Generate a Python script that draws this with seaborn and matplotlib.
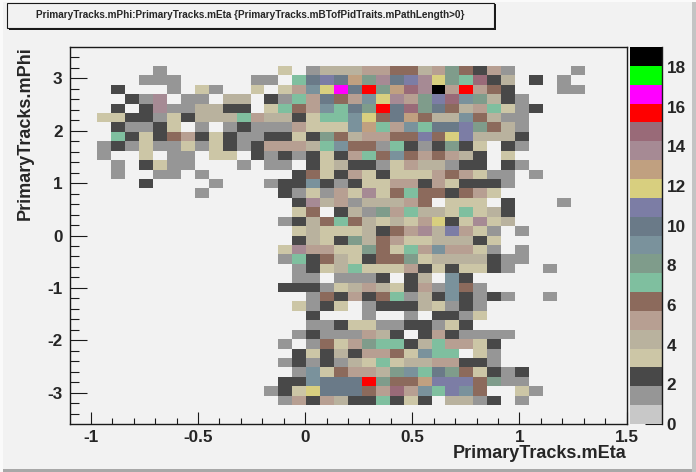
import numpy as np
import seaborn as sns
import matplotlib.pyplot as plt
from matplotlib.colors import ListedColormap
from matplotlib.patches import Rectangle

# bin contents, rows go from top (phi high) to bottom, 40 eta bins in each
row_00 = [0] * 40
row_01 = [0] * 40
row_02 = [0,0,0,0,0,0,1,0,0,0, 0,0,0,0,0,3,0,1,4,4, 4,5,5,6,6,4,5,8,6,2, 5,1,0,0,0,0,1,0,0,0]
row_03 = [0,0,0,0,0,1,1,1,0,0, 0,0,0,1,1,0,7,10,11,10, 13,8,14,10,11,14,12,8,7,15, 2,4,0,2,0,1,0,0,0,0]
row_04 = [0,0,0,2,0,0,0,1,0,3, 1,0,0,3,0,3,5,9,12,17, 10,16,8,13,15,14,19,5,16,5, 6,2,0,0,0,1,1,0,0,0]
row_05 = [0,0,0,0,2,1,14,0,1,1, 0,4,4,0,2,1,7,5,10,6, 5,9,12,14,5,8,11,15,9,8, 4,2,1,0,0,0,0,0,0,0]
row_06 = [0,0,0,2,0,2,14,1,1,4, 4,2,2,0,3,7,6,5,9,7, 10,8,16,10,15,8,10,6,4,5, 7,3,1,2,0,0,0,0,0,0]
row_07 = [0,0,3,3,2,2,1,3,2,4, 4,4,7,5,4,4,2,3,7,7, 9,12,6,10,13,6,4,4,9,6, 4,1,1,0,0,0,0,0,0,0]
row_08 = [0,0,0,2,1,1,2,3,0,1, 0,1,2,1,1,1,5,3,3,3, 9,13,7,5,9,7,10,10,11,8, 6,4,1,0,0,0,0,0,0,0]
row_09 = [0,0,0,7,2,3,2,6,5,2, 3,2,1,1,2,2,3,2,8,6, 4,5,5,6,6,11,6,12,11,4, 4,4,2,0,0,0,0,0,0,0]
row_10 = [0,0,1,2,1,3,1,1,3,1, 3,2,1,2,5,5,5,4,7,9, 6,6,1,7,2,1,2,8,2,3, 0,2,1,0,0,0,0,0,0,0]
row_11 = [0,0,1,0,0,3,0,1,1,0, 3,3,0,2,1,2,1,2,3,2, 5,7,6,9,6,5,6,5,4,2, 0,3,0,0,0,0,0,0,0,0]
row_12 = [0,0,0,1,0,2,3,1,1,0, 0,0,1,0,1,1,0,2,3,4, 2,2,1,3,5,4,4,1,2,2, 0,2,1,0,0,0,0,0,0,0]
row_13 = [0,0,0,1,0,0,1,1,0,1, 0,0,0,0,0,0,2,6,3,2, 5,3,2,3,3,3,5,6,5,3, 1,1,0,1,0,0,0,0,0,0]
row_14 = [0,0,0,0,0,2,0,0,0,0, 1,0,0,0,1,2,2,9,2,1, 2,3,3,5,5,2,5,3,2,2, 2,1,0,0,0,0,0,0,0,0]
row_15 = [0,0,0,0,0,0,0,0,0,1, 0,0,0,0,0,2,1,3,1,5, 3,14,3,6,7,6,6,2,6,5, 3,0,0,0,0,0,0,0,0,0]
row_16 = [0,0,0,0,0,0,0,0,0,0, 0,0,0,0,0,0,2,14,4,5, 1,4,4,4,5,6,0,3,3,3, 0,2,0,0,0,1,0,0,0,0]
row_17 = [0,0,0,0,0,0,0,0,0,0, 0,0,0,0,0,0,3,6,0,2, 4,1,8,5,7,4,4,3,7,3, 4,2,0,0,0,0,0,0,0,0]
row_18 = [0,0,0,0,0,0,0,0,0,0, 0,0,0,0,0,1,2,4,6,7, 6,4,3,4,3,5,12,2,3,14, 3,4,0,0,0,0,0,0,0,0]
row_19 = [0,0,0,0,0,0,0,0,0,0, 0,0,0,0,0,0,3,4,3,3, 3,4,2,6,5,14,4,11,5,3, 1,0,1,0,0,0,0,0,0,0]
row_20 = [0,0,0,0,0,0,0,0,0,0, 0,0,0,0,0,0,2,4,3,2, 8,4,6,5,3,3,4,4,4,2, 3,0,0,0,0,0,0,0,0,0]
row_21 = [0,0,0,0,0,0,0,0,0,0, 0,0,0,0,0,3,14,5,5,3, 3,8,6,3,7,5,9,5,5,3, 1,0,1,0,0,0,0,0,0,0]
row_22 = [0,0,0,0,0,0,0,0,0,0, 0,0,0,0,0,1,7,2,6,4, 3,2,6,6,8,3,4,4,4,4, 2,1,1,0,0,0,0,0,0,0]
row_23 = [0,0,0,0,0,0,0,0,0,0, 0,0,0,0,0,0,1,2,3,4, 7,3,3,3,5,2,3,2,3,3, 2,1,0,0,1,0,0,0,0,0]
row_24 = [0,0,0,0,0,0,0,0,0,0, 0,0,0,0,0,0,1,1,0,1, 1,1,2,0,2,4,0,9,2,0, 0,0,0,0,0,0,0,0,0,0]
row_25 = [0,0,0,0,0,0,0,0,0,0, 0,0,0,0,0,2,2,2,1,3, 4,5,4,3,2,5,1,9,6,1, 0,0,0,0,0,0,0,0,0,0]
row_26 = [0,0,0,0,0,0,0,0,0,0, 0,0,0,0,0,0,0,1,6,2, 5,2,6,7,1,4,2,9,2,1, 2,1,0,0,1,0,0,0,0,0]
row_27 = [0,0,0,0,0,0,0,0,0,0, 0,0,0,0,0,0,3,1,2,3, 0,1,2,2,2,4,3,1,2,1, 0,0,0,0,0,0,0,0,0,0]
row_28 = [0,0,0,0,0,0,0,0,0,0, 0,0,0,0,0,0,0,2,0,0, 0,1,0,0,1,0,2,2,1,3, 0,0,0,0,0,0,0,0,0,0]
row_29 = [0,0,0,0,0,0,0,0,0,0, 0,0,0,0,0,0,0,1,1,2, 3,3,1,1,2,2,1,3,2,0, 0,0,0,0,0,0,0,0,0,0]
row_30 = [0,0,0,0,0,0,0,0,0,0, 0,0,0,0,0,0,1,2,1,1, 1,5,4,2,0,2,5,2,1,1, 1,1,0,0,0,0,0,0,0,0]
row_31 = [0,0,0,0,0,0,0,0,0,0, 0,0,0,0,0,1,0,1,6,3, 5,8,7,7,2,4,7,5,5,3, 2,0,0,0,0,0,0,0,0,0]
row_32 = [0,0,0,0,0,0,0,0,0,0, 0,0,0,0,0,0,2,3,2,4, 2,5,5,6,3,9,7,7,0,3, 1,0,0,0,0,0,0,0,0,0]
row_33 = [0,0,0,0,0,0,0,0,0,0, 0,0,0,0,0,1,2,1,2,1, 4,3,7,3,4,4,5,5,2,2, 1,0,0,0,0,0,0,0,0,0]
row_34 = [0,0,0,0,0,0,0,0,0,0, 0,0,0,0,0,0,1,9,3,6, 5,5,4,8,9,7,10,8,6,3, 2,1,2,0,0,0,0,0,0,0]
row_35 = [0,0,0,0,0,0,0,0,0,0, 0,0,0,0,0,2,2,9,10,10, 10,16,8,6,6,13,11,11,11,6, 8,1,1,0,0,0,0,0,0,0]
row_36 = [0,0,0,0,0,0,0,0,0,0, 0,0,0,0,1,2,3,12,10,10, 10,6,5,15,5,9,7,11,9,6, 0,0,3,1,0,0,0,0,0,0]
row_37 = [0,0,0,0,0,0,0,0,0,0, 0,0,0,0,0,1,5,2,5,4, 2,2,7,2,3,2,0,4,4,1, 2,0,1,0,0,0,0,0,0,0]
row_38 = [0] * 40
row_39 = [0] * 40

palette = ['#c8c8c8', '#969696', '#484848', '#ccc6a6', '#b9b29e', '#b79f92',
           '#8c6a5c', '#7fbf9f', '#7f9c8b', '#7a929c', '#6a7a88', '#7c7da5',
           '#d8cf7f', '#c0a080', '#a68a94', '#996a78', '#ff0000', '#ff00ff',
           '#00ff00', '#000000']
eta_major = [-1, -0.5, 0, 0.5, 1, 1.5]
eta_labels = ['-1', '-0.5', '0', '0.5', '1', '1.5']
phi_major = [3, 2, 1, 0, -1, -2, -3]
phi_labels = ['3', '2', '1', '0', '-1', '-2', '-3']
z_ticks = [0, 2, 4, 6, 8, 10, 12, 14, 16, 18]

title = 'PrimaryTracks.mPhi:PrimaryTracks.mEta {PrimaryTracks.mBTofPidTraits.mPathLength>0}'
bg = '#f2f2f2'

counts = np.array([row_00, row_01, row_02, row_03, row_04, row_05, row_06, row_07,
                   row_08, row_09, row_10, row_11, row_12, row_13, row_14, row_15,
                   row_16, row_17, row_18, row_19, row_20, row_21, row_22, row_23,
                   row_24, row_25, row_26, row_27, row_28, row_29, row_30, row_31,
                   row_32, row_33, row_34, row_35, row_36, row_37, row_38, row_39])

sns.set_theme(style='white')
plt.rcParams['font.family'] = ['Liberation Sans', 'DejaVu Sans']
plt.rcParams['font.weight'] = 'bold'

W, H = 696, 472
fig = plt.figure(figsize=(W / 100, H / 100), dpi=100, facecolor=bg)


def box(x0, y0, x1, y1):
    # pixel box (origin top left) to figure fractions
    return [x0 / W, 1 - y1 / H, (x1 - x0) / W, (y1 - y0) / H]


ax = fig.add_axes(box(69.5, 47, 626.5, 424))
cax = fig.add_axes(box(629.5, 47, 662, 424))

sns.heatmap(counts, mask=counts == 0, cmap=ListedColormap(palette), vmin=0, vmax=19,
            ax=ax, cbar_ax=cax, linewidths=0, xticklabels=False, yticklabels=False)
ax.set_facecolor(bg)


# heatmap axes run in bin numbers
def eta_pos(v):
    return (np.asarray(v) + 1.1) / 0.065


def phi_pos(v):
    return (3.6 - np.asarray(v)) / 0.18


ax.set_xticks(eta_pos(eta_major))
ax.set_xticklabels(eta_labels, fontsize=12.3, fontweight='bold', rotation=0)
ax.set_yticks(phi_pos(phi_major))
ax.set_yticklabels(phi_labels, fontsize=12.3, fontweight='bold', rotation=0)
ax.set_xticks(eta_pos(np.arange(-1.0, 1.45, 0.1)), minor=True)
ax.set_yticks(phi_pos(np.arange(-3.4, 3.45, 0.2)), minor=True)
ax.tick_params(axis='x', which='major', direction='in', length=8.4, width=0.8, pad=4, color='k', bottom=True)
ax.tick_params(axis='x', which='minor', direction='in', length=4.2, width=0.8, color='k', bottom=True)
ax.tick_params(axis='y', which='major', direction='in', length=12.5, width=0.8, pad=5, color='k', left=True)
ax.tick_params(axis='y', which='minor', direction='in', length=6.2, width=0.8, color='k', left=True)
for s in ax.spines.values():
    s.set_visible(True)
    s.set_color('k')
    s.set_linewidth(1.0)

fig.text(626 / W, 1 - 453 / H, 'PrimaryTracks.mEta', ha='right', va='center', fontsize=13, fontweight='bold')
fig.text(25 / W, 1 - 46 / H, 'PrimaryTracks.mPhi', ha='center', va='top', rotation=90, fontsize=13, fontweight='bold')

cbar = ax.collections[0].colorbar
cbar.outline.set_visible(False)
cbar.set_ticks(z_ticks)
cbar.set_ticklabels([str(z) for z in z_ticks])
cax.minorticks_off()
cax.spines['right'].set_visible(True)
cax.spines['right'].set_color('k')
cax.spines['right'].set_linewidth(1.0)
cax.tick_params(axis='y', direction='in', length=12.2, width=0.8, pad=3.5, color='k', right=True, labelsize=12.3)

# title box with its shadow
fig.add_artist(Rectangle((9 / W, 1 - 29.5 / H), 487 / W, 26 / H, transform=fig.transFigure, fc='k', ec='none'))
fig.add_artist(Rectangle((7 / W, 1 - 27.5 / H), 487 / W, 25 / H, transform=fig.transFigure, fc=bg, ec='k', lw=0.8))
fig.text(250 / W, 1 - 15 / H, title, ha='center', va='center', fontsize=7.18, fontweight='bold')

# canvas bevel
fig.add_artist(Rectangle((0, 0), 1, 3 / H, transform=fig.transFigure, fc='#a8a8a8', ec='none'))
fig.add_artist(Rectangle((1 - 4 / W, 0), 4 / W, 1, transform=fig.transFigure, fc='#c4c4c4', ec='none'))
fig.add_artist(Rectangle((0, 1 - 2 / H), 1, 2 / H, transform=fig.transFigure, fc='#fafafa', ec='none'))
fig.add_artist(Rectangle((0, 0), 3 / W, 1, transform=fig.transFigure, fc='#fafafa', ec='none'))

fig.savefig('out.png', dpi=100, facecolor=bg)
